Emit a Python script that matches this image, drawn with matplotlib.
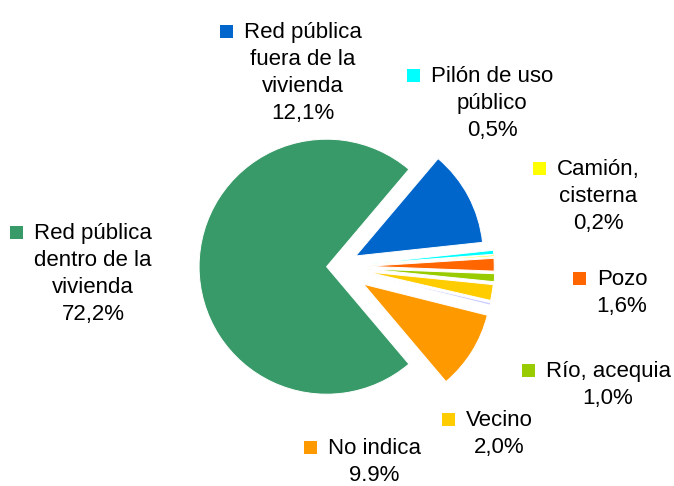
import matplotlib
matplotlib.use("Agg")
import matplotlib.pyplot as plt
from matplotlib.patches import Rectangle

# Water supply source shares (%)
categories = ["Red pública dentro de la vivienda", "Red pública fuera de la vivienda",
              "Pilón de uso público", "Camión, cisterna", "Pozo", "Río, acequia",
              "Vecino", "Otro", "No indica"]
values = [72.2, 12.1, 0.5, 0.2, 1.6, 1.0, 2.0, 0.3, 9.9]
value_labels = ["72,2%", "12,1%", "0,5%", "0,2%", "1,6%", "1,0%", "2,0%", None, "9.9%"]
label_lines = [["Red pública", "dentro de la", "vivienda"],
               ["Red pública", "fuera de la", "vivienda"],
               ["Pilón de uso", "público"],
               ["Camión,", "cisterna"],
               ["Pozo"],
               ["Río, acequia"],
               ["Vecino"],
               None,
               ["No indica"]]
colors = ["#389A68", "#0066CC", "#00FFFF", "#FFFF00", "#FF6600", "#99CC00",
          "#FFCC00", "#CCCCFF", "#FF9900"]
explode_frac = [0.07, 0.18, 0.245, 0.25, 0.245, 0.25, 0.245, 0.25, 0.26]

W, H = 674, 486
fig = plt.figure(figsize=(W / 100, H / 100), dpi=100)
ax = fig.add_axes([0, 0, 1, 1])

# pixel-based coordinate frame (y measured from the bottom)
cx, cy, R = 335.5, H - 266.7, 127.5
g = values[0] / sum(values)
start = -(180 - 180 * g)  # keeps the big slice centred on the left

ax.pie(values, colors=colors, explode=[e * R for e in explode_frac],
       center=(cx, cy), radius=R, startangle=start, counterclock=False,
       frame=True, wedgeprops=dict(edgecolor="white", linewidth=0.7))
ax.set_xlim(0, W)
ax.set_ylim(0, H)
ax.set_aspect("equal")
ax.axis("off")

font = dict(family="Liberation Sans", fontsize=16, color="#000000")
pitch = 27
# (text centre x, first baseline y from top)
label_pos = [(93, 239), (303, 38), (492, 82), (598, 175), (622, 285),
             (608, 377), (499, 426), None, (374, 454)]

fig.canvas.draw()
renderer = fig.canvas.get_renderer()
sq, gap = 13, 11
for lines, val, col, pos in zip(label_lines, value_labels, colors, label_pos):
    if lines is None:
        continue
    x, ytop = pos
    all_lines = lines + [val]
    first = None
    for i, line in enumerate(all_lines):
        t = ax.text(x, H - (ytop + i * pitch), line, ha="center", va="baseline", **font)
        if i == 0:
            first = t
    bb = first.get_window_extent(renderer)
    right = bb.x0 - gap
    base = H - ytop
    ax.add_patch(Rectangle((right - sq, base), sq, sq, facecolor=col,
                           edgecolor="none"))

fig.savefig("out.png", dpi=100)
